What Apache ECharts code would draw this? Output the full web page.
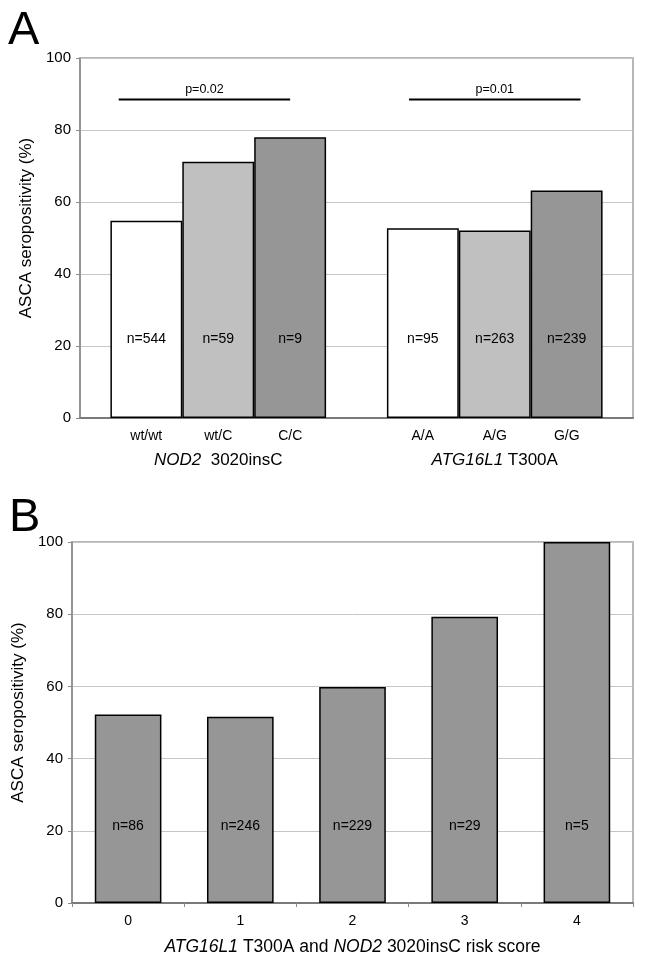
<!DOCTYPE html>
<html><head><meta charset="utf-8">
<script src="https://cdn.jsdelivr.net/npm/echarts@6/dist/echarts.min.js"></script>
<style>html,body{margin:0;padding:0;background:#fff}#c{width:645px;height:961px}</style>
</head><body><div id="c"></div>
<script>
// ---------- data ----------
const groupsA = ['NOD2', 'ATG16L1'];
const groupTitlesA = [['NOD2', '  3020insC'], ['ATG16L1', ' T300A']];
const genotypesA = [['wt/wt', 'wt/C', 'C/C'], ['A/A', 'A/G', 'G/G']];
const valuesA = [[54.8, 71.2, 78.0], [52.7, 52.1, 63.2]];
const countsA = [[544, 59, 9], [95, 263, 239]];
const pBracketsA = [
  { text: 'p=0.02', from: 0.14, to: 0.76, y: 88.5 },
  { text: 'p=0.01', from: 1.19, to: 1.81, y: 88.5 }
];
const scoresB = ['0', '1', '2', '3', '4'];
const valuesB = [52.2, 51.6, 59.8, 79.3, 100];
const countsB = [86, 246, 229, 29, 5];
const yMin = 0, yMax = 100, yStep = 20;
const yName = 'ASCA seropositivity (%)';
const xNameB = '{i|ATG16L1} T300A and {i|NOD2} 3020insC risk score';

// ---------- styles ----------
const FONT = '"Liberation Sans", Arial, Helvetica, sans-serif';
const fillsA = ['#ffffff', '#c0c0c0', '#969696'];
const fillB = '#969696';

const chart = echarts.init(document.getElementById('c'), null, { renderer: 'canvas' });

function yAxisCfg(gridIndex, nameGap) {
  return {
    type: 'value', gridIndex, min: yMin, max: yMax, interval: yStep,
    name: yName, nameLocation: 'middle', nameRotate: 90, nameGap,
    nameTextStyle: { fontSize: 17, color: '#000', fontFamily: FONT, padding: [0, 0, 0, 20] },
    axisLine: { show: true, lineStyle: { color: '#8a8a8a', width: 1.5 } },
    axisTick: { show: true, length: 4, lineStyle: { color: '#8a8a8a' } },
    axisLabel: { fontSize: 15, color: '#000', fontFamily: FONT, margin: 9 },
    splitLine: { show: true, lineStyle: { color: '#c6c6c6', width: 1 } }
  };
}

const seriesA = [0, 1, 2].map(k => ({
  type: 'bar', xAxisIndex: 0, yAxisIndex: 0,
  barGap: '0%', barCategoryGap: '22%',
  itemStyle: { color: fillsA[k], borderColor: '#000', borderWidth: 1.5 },
  label: {
    show: true, position: ['50%', '100%'], offset: [0, -79],
    align: 'center', verticalAlign: 'middle',
    fontSize: 14, color: '#000', fontFamily: FONT
  },
  data: groupsA.map((g, i) => ({ value: valuesA[i][k], label: { formatter: 'n=' + countsA[i][k] } })),
  silent: true
}));

const bracketSeries = pBracketsA.map(b => ({
  type: 'line', xAxisIndex: 1, yAxisIndex: 0,
  symbol: 'circle', symbolSize: 0, showSymbol: true,
  lineStyle: { color: '#000', width: 2 },
  itemStyle: { color: '#000' },
  data: [
    { value: [b.from, b.y], label: { show: false } },
    { value: [(b.from + b.to) / 2, b.y], label: { show: true, formatter: b.text, position: 'top', distance: 3, fontSize: 12.5, color: '#000', fontFamily: FONT } },
    { value: [b.to, b.y], label: { show: false } }
  ],
  silent: true, animation: false, z: 5
}));

const seriesB = {
  type: 'bar', xAxisIndex: 2, yAxisIndex: 1,
  barCategoryGap: '40.6%',
  itemStyle: { color: fillB, borderColor: '#000', borderWidth: 1.5 },
  label: {
    show: true, position: ['50%', '100%'], offset: [0, -76.5],
    align: 'center', verticalAlign: 'middle',
    fontSize: 14, color: '#000', fontFamily: FONT
  },
  data: valuesB.map((v, i) => ({ value: v, label: { formatter: 'n=' + countsB[i] } })),
  silent: true
};

const option = {
  animation: false,
  backgroundColor: '#fff',
  textStyle: { fontFamily: FONT },
  grid: [
    { left: 80, top: 58, width: 553, height: 360, show: true, borderColor: '#a0a0a0', borderWidth: 1.5 },
    { left: 72, top: 542, width: 561, height: 361, show: true, borderColor: '#a0a0a0', borderWidth: 1.5 }
  ],
  xAxis: [
    {
      type: 'category', gridIndex: 0, data: groupsA,
      axisLine: { show: true, lineStyle: { color: '#7a7a7a', width: 2 } },
      axisTick: { show: false },
      axisLabel: {
        interval: 0, margin: 6, color: '#000', fontFamily: FONT,
        formatter: (val) => {
          const i = groupsA.indexOf(val);
          return genotypesA[i].map(g => '{g|' + g + '}').join('') +
            '\n{i|' + groupTitlesA[i][0] + '}{t|' + groupTitlesA[i][1] + '}';
        },
        rich: {
          g: { width: 72, align: 'center', fontSize: 14, lineHeight: 24, color: '#000', fontFamily: FONT },
          i: { align: 'center', fontSize: 17, fontStyle: 'italic', lineHeight: 24, color: '#000', fontFamily: FONT },
          t: { align: 'center', fontSize: 17, lineHeight: 24, color: '#000', fontFamily: FONT }
        }
      }
    },
    { type: 'value', gridIndex: 0, min: 0, max: groupsA.length, show: false },
    {
      type: 'category', gridIndex: 1, data: scoresB,
      name: xNameB, nameLocation: 'middle', nameGap: 35,
      nameTextStyle: {
        fontSize: 17.5, color: '#000', fontFamily: FONT,
        rich: { i: { fontSize: 17.5, fontStyle: 'italic', color: '#000', fontFamily: FONT } }
      },
      axisLine: { show: true, lineStyle: { color: '#7a7a7a', width: 2 } },
      axisTick: { show: true, length: 4, lineStyle: { color: '#8a8a8a' } },
      axisLabel: { fontSize: 14, color: '#000', fontFamily: FONT, margin: 11 }
    }
  ],
  yAxis: [yAxisCfg(0, 39.5), yAxisCfg(1, 35.5)],
  series: [...seriesA, ...bracketSeries, seriesB],
  graphic: [
    { type: 'text', left: 8, top: 8, style: { text: 'A', fontSize: 47, fill: '#000', fontFamily: FONT } },
    { type: 'text', left: 9, top: 495, style: { text: 'B', fontSize: 47, fill: '#000', fontFamily: FONT } }
  ]
};
chart.setOption(option);
</script>
</body></html>
